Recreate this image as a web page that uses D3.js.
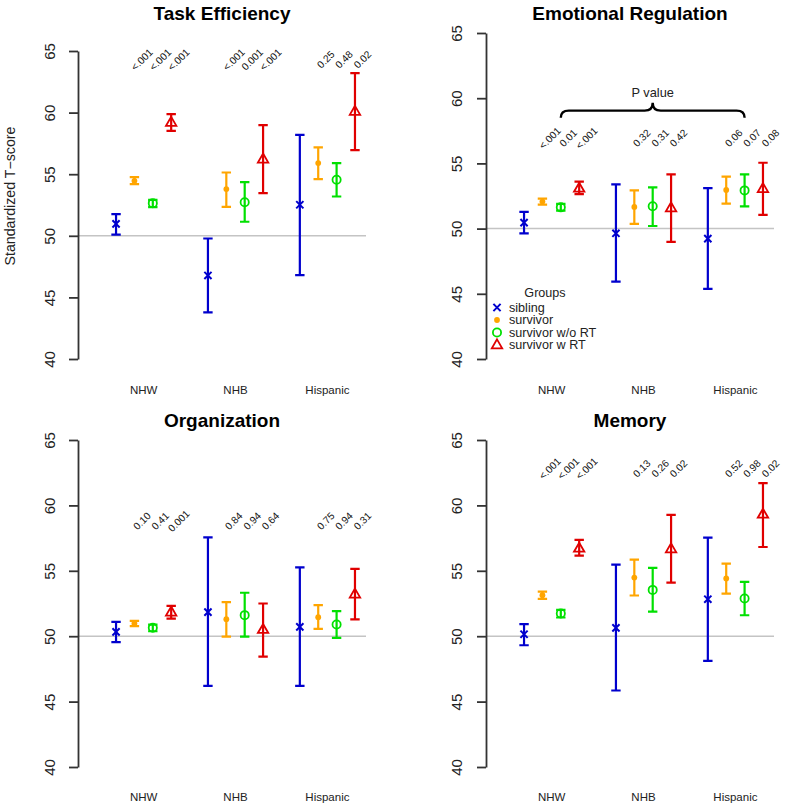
<!DOCTYPE html>
<html>
<head>
<meta charset="utf-8">
<script src="https://cdn.jsdelivr.net/npm/d3@7"></script>
<style>
  html, body { margin: 0; padding: 0; background: #fff; }
  svg { display: block; font-family: "Liberation Sans", Arial, Helvetica, sans-serif; }
</style>
</head>
<body>
<svg id="chart" width="786" height="807"></svg>
<script>
// ---------- data ----------
const categories = ["NHW", "NHB", "Hispanic"];
const groups = ["sibling", "survivor", "survivor w/o RT", "survivor w RT"];
const yTicks = [40, 45, 50, 55, 60, 65];
const refLine = 50;

// estimates / lower / upper : [category][group]
const taskEst = [[50.97, 54.46, 52.65, 59.20], [46.78, 53.79, 52.73, 56.22], [52.52, 55.90, 54.55, 60.09]];
const taskLo  = [[50.10, 54.19, 52.33, 58.52], [43.78, 52.35, 51.14, 53.46], [46.81, 54.60, 53.19, 56.95]];
const taskHi  = [[51.76, 54.76, 52.92, 59.88], [49.78, 55.14, 54.36, 58.98], [58.20, 57.17, 55.90, 63.20]];
const taskP   = [["<.001", "<.001", "<.001"], ["<.001", "0.001", "<.001"], ["0.25", "0.48", "0.02"]];

const emoEst = [[50.46, 52.07, 51.63, 53.09], [49.64, 51.66, 51.71, 51.58], [49.23, 52.96, 52.93, 53.06]];
const emoLo  = [[49.64, 51.84, 51.38, 52.65], [45.94, 50.36, 50.20, 48.98], [45.38, 51.91, 51.71, 51.05]];
const emoHi  = [[51.28, 52.30, 51.89, 53.60], [53.39, 52.93, 53.16, 54.16], [53.11, 53.98, 54.16, 55.05]];
const emoP   = [["<.001", "0.01", "<.001"], ["0.32", "0.31", "0.42"], ["0.06", "0.07", "0.08"]];

const orgEst = [[50.33, 50.97, 50.64, 51.84], [51.84, 51.30, 51.61, 50.51], [50.71, 51.45, 50.89, 53.21]];
const orgLo  = [[49.54, 50.77, 50.38, 51.35], [46.20, 49.97, 49.97, 48.44], [46.20, 50.56, 49.87, 51.28]];
const orgHi  = [[51.10, 51.17, 50.89, 52.32], [57.55, 52.60, 53.32, 52.50], [55.26, 52.37, 51.91, 55.15]];
const orgP   = [["0.10", "0.41", "0.001"], ["0.84", "0.94", "0.64"], ["0.75", "0.94", "0.31"]];

const memEst = [[50.15, 53.13, 51.73, 56.72], [50.64, 54.48, 53.54, 56.67], [52.83, 54.41, 52.88, 59.32]];
const memLo  = [[49.31, 52.85, 51.43, 56.16], [45.85, 53.11, 51.88, 54.10], [48.12, 53.26, 51.60, 56.82]];
const memHi  = [[50.92, 53.41, 52.01, 57.36], [55.47, 55.86, 55.22, 59.27], [57.54, 55.55, 54.15, 61.71]];
const memP   = [["<.001", "<.001", "<.001"], ["0.13", "0.26", "0.02"], ["0.52", "0.98", "0.02"]];

// ---------- style ----------
const colors = ["#0000CD", "#FFA500", "#00E000", "#E00000"];
const axisColor = "#333";

const panels = [
  { title: "Task Efficiency", est: taskEst, lo: taskLo, hi: taskHi, p: taskP, pY: 64.3,
    x0: 78, x1: 366, yTop: 51, yBot: 359, titleX: 222, titleY: 20, catY: 390, tickX: 49, ylab: true },
  { title: "Emotional Regulation", est: emoEst, lo: emoLo, hi: emoHi, p: emoP, pY: 56.94,
    x0: 486, x1: 774, yTop: 33, yBot: 359, titleX: 630, titleY: 20, catY: 390, tickX: 456, legend: true, brace: true },
  { title: "Organization", est: orgEst, lo: orgLo, hi: orgHi, p: orgP, pY: 58.8,
    x0: 78, x1: 366, yTop: 440, yBot: 767, titleX: 222, titleY: 427, catY: 797, tickX: 49 },
  { title: "Memory", est: memEst, lo: memLo, hi: memHi, p: memP, pY: 62.82,
    x0: 486, x1: 774, yTop: 440, yBot: 767, titleX: 630, titleY: 427, catY: 797, tickX: 456 }
];

const svg = d3.select("#chart");

function drawSymbol(g, gi, cx, cy) {
  const col = colors[gi];
  if (gi === 0) {
    const s = 3.6;
    g.append("path").attr("d", `M${cx - s},${cy - s}L${cx + s},${cy + s}M${cx - s},${cy + s}L${cx + s},${cy - s}`)
      .attr("stroke", col).attr("stroke-width", 2).attr("fill", "none");
  } else if (gi === 1) {
    g.append("circle").attr("cx", cx).attr("cy", cy).attr("r", 2.9).attr("fill", col);
  } else if (gi === 2) {
    g.append("circle").attr("cx", cx).attr("cy", cy).attr("r", 4.1)
      .attr("fill", "none").attr("stroke", col).attr("stroke-width", 1.8);
  } else {
    g.append("path").attr("d", `M${cx},${cy - 5.6}L${cx + 5.2},${cy + 3.4}L${cx - 5.2},${cy + 3.4}Z`)
      .attr("fill", "none").attr("stroke", col).attr("stroke-width", 1.8).attr("stroke-linejoin", "miter");
  }
}

panels.forEach(P => {
  const g = svg.append("g");
  const x = d3.scaleLinear().domain([-1.07, 14.6]).range([P.x0, P.x1]);
  const y = d3.scaleLinear().domain([40, 65]).range([P.yBot, P.yTop]);
  const pos = (c, gi) => c * 5 + gi + 1;

  // title
  g.append("text").attr("x", P.titleX).attr("y", P.titleY).attr("text-anchor", "middle")
    .attr("font-weight", "bold").attr("font-size", 19).attr("fill", "#000").text(P.title);

  // reference line
  g.append("line").attr("x1", P.x0).attr("x2", P.x1).attr("y1", y(refLine)).attr("y2", y(refLine))
    .attr("stroke", "#C4C4C4").attr("stroke-width", 1.5);

  // y axis
  const ax = g.append("g").attr("transform", `translate(${P.x0},0)`)
    .call(d3.axisLeft(y).tickValues(yTicks).tickSize(9).tickSizeOuter(0).tickFormat(d3.format("d")));
  ax.select(".domain").attr("stroke", axisColor).attr("stroke-width", 1.8);
  ax.selectAll(".tick line").attr("stroke", axisColor).attr("stroke-width", 1.8);
  ax.selectAll(".tick text")
    .attr("x", 0).attr("dy", null)
    .attr("transform", `translate(${P.tickX - P.x0},0) rotate(-90)`)
    .attr("text-anchor", "middle").attr("dominant-baseline", "central")
    .attr("font-size", 15).attr("fill", "#222")
    .attr("font-family", "Liberation Sans, Arial, sans-serif");

  if (P.ylab) {
    g.append("text").attr("transform", `translate(10,196) rotate(-90)`)
      .attr("text-anchor", "middle").attr("dominant-baseline", "central")
      .attr("font-size", 14.2).attr("fill", "#222").text("Standardized T\u2212score");
  }

  // category labels
  categories.forEach((cat, c) => {
    g.append("text").attr("x", x(c * 5 + 2.5)).attr("y", P.catY)
      .attr("text-anchor", "middle").attr("dominant-baseline", "central")
      .attr("font-size", 11.5).attr("fill", "#222").text(cat);
  });

  // error bars + points
  categories.forEach((cat, c) => {
    groups.forEach((grp, gi) => {
      const px = x(pos(c, gi));
      const col = colors[gi];
      const yl = y(P.lo[c][gi]), yh = y(P.hi[c][gi]);
      const cw = 4.7;
      g.append("path")
        .attr("d", `M${px},${yl}L${px},${yh}M${px - cw},${yl}L${px + cw},${yl}M${px - cw},${yh}L${px + cw},${yh}`)
        .attr("stroke", col).attr("stroke-width", 2.2).attr("fill", "none");
      drawSymbol(g, gi, px, y(P.est[c][gi]));
    });
    // p-value labels (survivor groups)
    P.p[c].forEach((lab, k) => {
      const px = x(pos(c, k + 1)) + 7.5;
      const py = y(P.pY);
      g.append("text").attr("transform", `translate(${px},${py}) rotate(-45)`)
        .attr("text-anchor", "middle").attr("dominant-baseline", "central")
        .attr("font-size", 10.2).attr("fill", "#111").text(lab);
    });
  });

  if (P.brace) {
    const xl = x(3), xr = x(13), xm = x(8);
    const yE = y(58.5), yL = y(59.05), yP = y(59.65);
    g.append("path")
      .attr("d", `M${xl},${yE}Q${xl},${yL} ${xl + 8},${yL}L${xm - 8},${yL}Q${xm},${yL} ${xm},${yP}` +
                 `Q${xm},${yL} ${xm + 8},${yL}L${xr - 8},${yL}Q${xr},${yL} ${xr},${yE}`)
      .attr("fill", "none").attr("stroke", "#000").attr("stroke-width", 2.4);
    g.append("text").attr("x", xm).attr("y", y(60.45)).attr("text-anchor", "middle")
      .attr("dominant-baseline", "central").attr("font-size", 12.8).attr("fill", "#222").text("P value");
  }

  if (P.legend) {
    const lg = g.append("g");
    lg.append("text").attr("x", 545).attr("y", 293).attr("text-anchor", "middle")
      .attr("dominant-baseline", "central").attr("font-size", 12.6).attr("fill", "#222").text("Groups");
    const rowsY = [307.5, 320, 332.5, 345];
    groups.forEach((grp, gi) => {
      drawSymbol(lg, gi, 497, rowsY[gi]);
      lg.append("text").attr("x", 509).attr("y", rowsY[gi]).attr("dominant-baseline", "central")
        .attr("font-size", 12.6).attr("fill", "#222").text(grp);
    });
  }
});
</script>
</body>
</html>
